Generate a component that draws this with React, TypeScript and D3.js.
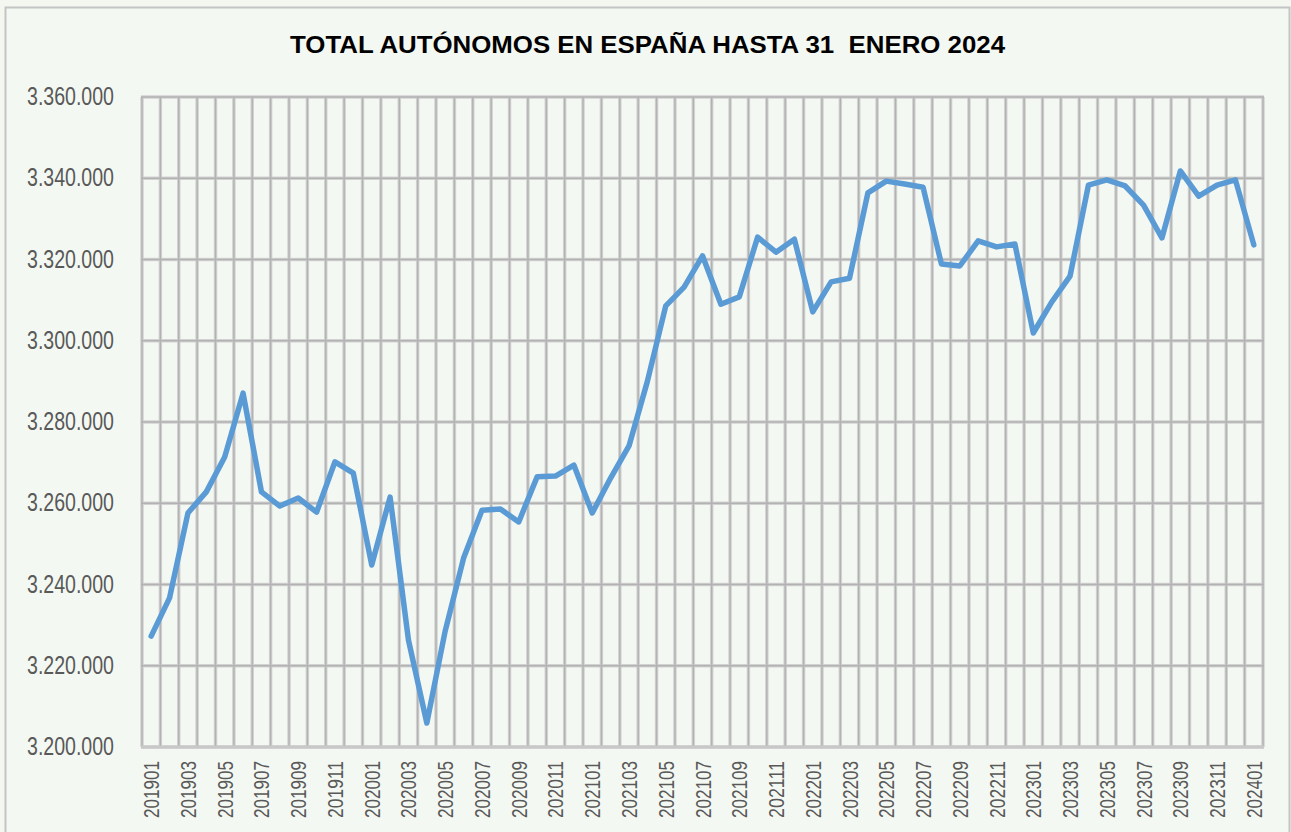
import React from "react";
import * as d3 from "d3";

const months: string[] = [
  "201901","201902","201903","201904","201905","201906","201907","201908","201909","201910","201911","201912",
  "202001","202002","202003","202004","202005","202006","202007","202008","202009","202010","202011","202012",
  "202101","202102","202103","202104","202105","202106","202107","202108","202109","202110","202111","202112",
  "202201","202202","202203","202204","202205","202206","202207","202208","202209","202210","202211","202212",
  "202301","202302","202303","202304","202305","202306","202307","202308","202309","202310","202311","202312",
  "202401",
];

const autonomos: number[] = [
  3227300, 3236700, 3257600, 3262800, 3271400, 3287100, 3262800, 3259300, 3261300, 3257800, 3270200, 3267400,
  3244800, 3261500, 3226300, 3205900, 3228600, 3246500, 3258300, 3258600, 3255400, 3266500, 3266700, 3269400,
  3257600, 3266200, 3274100, 3290000, 3308600, 3313200, 3320900, 3309000, 3310800, 3325500, 3321800, 3325000,
  3307100, 3314500, 3315400, 3336400, 3339300, 3338600, 3337800, 3318900, 3318400, 3324600, 3323100, 3323800,
  3301900, 3309500, 3315900, 3338300, 3339600, 3338100, 3333400, 3325300, 3341800, 3335600, 3338300, 3339600,
  3323600,
];

const yTicks: number[] = [3200000, 3220000, 3240000, 3260000, 3280000, 3300000, 3320000, 3340000, 3360000];
const xTickLabels: string[] = months.filter((_, i) => i % 2 === 0);

const title = "TOTAL AUTÓNOMOS EN ESPAÑA HASTA 31  ENERO 2024";

export default function App() {
  const W = 1291, H = 832;
  const left = 142, right = 1263, top = 97, bottom = 747;

  const x = d3.scaleBand<string>().domain(months).range([left, right]).paddingInner(0).paddingOuter(0);
  const y = d3.scaleLinear().domain([3200000, 3360000]).range([bottom, top]);
  const cx = (m: string) => (x(m) as number) + x.bandwidth() / 2;

  const line = d3.line<number>()
    .x((_, i) => cx(months[i]))
    .y((v) => y(v));

  const boundaries = d3.range(months.length + 1).map((i) => left + i * x.step());
  const fmt = (v: number) => d3.format(",")(v).replace(/,/g, ".");
  const font = "'Liberation Sans', Arial, sans-serif";

  const gridH = yTicks.map((t) => ({ x1: left - 1, x2: right + 1, y1: y(t), y2: y(t), k: "h" + t }));
  const gridV = boundaries.map((bx, i) => ({ x1: bx, x2: bx, y1: top, y2: bottom, k: "v" + i }));
  const grid = [...gridH, ...gridV];

  return (
    <svg width={W} height={H} style={{ position: "absolute", left: 0, top: 0, background: "#f3f7f0" }}>
      <rect x={0} y={0} width={W} height={H} fill="#f3f7f0" />
      <rect x={5.5} y={7.5} width={1284} height={840} fill="#f4f8f2" stroke="#c4c4c4" strokeWidth={2} />
      <text
        x={290} y={53} fontFamily={font} fontWeight="bold" fontSize={24} fill="#000"
        textLength={715} lengthAdjust="spacingAndGlyphs" style={{ whiteSpace: "pre" }}
      >{title}</text>

      {grid.map((g) => (
        <line key={g.k + "o"} x1={g.x1} x2={g.x2} y1={g.y1} y2={g.y2} stroke="#d2d2d2" strokeWidth={3.5} />
      ))}
      {grid.map((g) => (
        <line key={g.k + "i"} x1={g.x1} x2={g.x2} y1={g.y1} y2={g.y2} stroke="#b2b2b2" strokeWidth={1.4} />
      ))}
      <line x1={left - 1} x2={right + 1} y1={bottom} y2={bottom} stroke="#c8c8c8" strokeWidth={3} />

      {yTicks.map((t) => (
        <text key={"yl" + t} x={114} y={y(t) + 8} textAnchor="end" fontFamily={font} fontSize={25}
          fill="#595959" textLength={87} lengthAdjust="spacingAndGlyphs">{fmt(t)}</text>
      ))}

      {xTickLabels.map((m) => (
        <text key={"xl" + m} transform={`translate(${cx(m) + 8},761) rotate(-90)`} textAnchor="end"
          fontFamily={font} fontSize={22} fill="#595959" textLength={57} lengthAdjust="spacingAndGlyphs">{m}</text>
      ))}

      <path d={line(autonomos) || ""} fill="none" stroke="#5b9bd5" strokeWidth={5.5} strokeLinejoin="round" strokeLinecap="round" />
    </svg>
  );
}
